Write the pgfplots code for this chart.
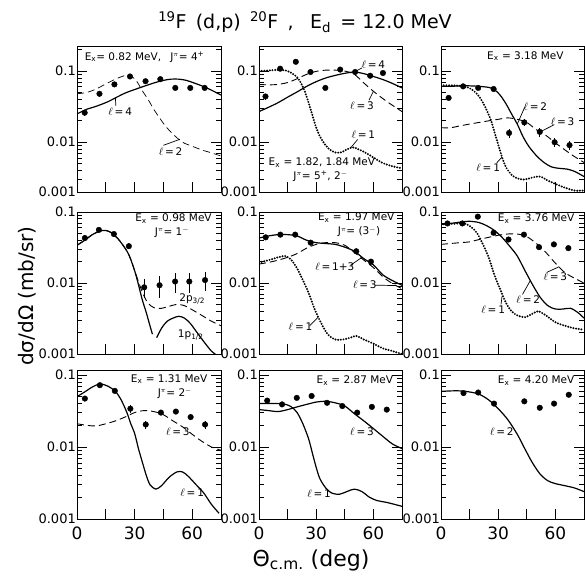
\documentclass[border=0pt]{standalone}
\usepackage{pgfplots}
\pgfplotsset{compat=1.18}
\usepackage{graphicx}
\usepackage{fontspec}
\setmainfont{DejaVu Sans}
\newcommand{\af}{\fontsize{10.5}{12}\selectfont}
\newcommand{\lab}[1]{$\ell$\,=\,#1}
\tikzset{ptr/.style={black, line width=0.7pt}}
\pgfplotsset{
  every axis/.append style={
    scale only axis, xmin=0, xmax=75,
    anchor=north west,
    axis line style={line width=0.9pt},
    xtick={0,15,30,45,60},
    xtick pos=left, ytick pos=both, yticklabel pos=left,
    tick align=inside,
    major tick length=10pt, minor tick length=5pt,
    tick style={black, line width=0.8pt},
    yticklabel style={font=\fontsize{13}{13}\selectfont, inner sep=1pt},
    xticklabel style={font=\fontsize{17}{17}\selectfont, yshift=-4pt},
  },
  RowOne/.style={height=146pt, ymin=0.002, ymax=0.225, xticklabels={},
    ytick={0.002,0.01,0.1}, yticklabels={0.001,0.01,0.1},
    minor ytick={0.003,0.004,0.005,0.006,0.007,0.008,0.009,0.02,0.03,0.04,0.05,0.06,0.07,0.08,0.09,0.2}},
  RowTwo/.style={height=142pt, ymin=0.001, ymax=0.1, xticklabels={},
    ytick={0.001,0.01,0.1}, yticklabels={0.001,0.01,0.1},
    minor ytick={0.002,0.003,0.004,0.005,0.006,0.007,0.008,0.009,0.02,0.03,0.04,0.05,0.06,0.07,0.08,0.09}},
  RowThree/.style={height=149pt, ymin=0.001, ymax=0.117,
    ytick={0.001,0.01,0.1}, yticklabels={0.001,0.01,0.1},
    xticklabels={0,,30,,60},
    minor ytick={0.002,0.003,0.004,0.005,0.006,0.007,0.008,0.009,0.02,0.03,0.04,0.05,0.06,0.07,0.08,0.09}},
  SOL/.style={black, line width=1.2pt, smooth, no markers},
  DSH/.style={black, line width=0.9pt, dash pattern=on 7pt off 4pt, smooth, no markers},
  DOT/.style={black, line width=2.2pt, dash pattern=on 0pt off 2.7pt, line cap=round, smooth, no markers},
  PTS/.style={black, only marks, mark=*, mark size=2.8pt,
    error bars/y dir=both, error bars/y explicit relative,
    error bars/error bar style={line width=0.9pt, solid}, error bars/error mark=none},
}
\begin{document}
\begin{tikzpicture}
\useasboundingbox (0,0) rectangle (585pt,-576pt);
% title and axis labels
\node[anchor=base, font=\fontsize{19}{19}\selectfont] at (305pt,-28pt)
  {\textsuperscript{19}F\, (d,p)\, \textsuperscript{20}F\, ,\;\; E\textsubscript{d}\, = 12.0 MeV};
\node[rotate=90, font=\fontsize{20}{20}\selectfont] at (27pt,-296pt) {dσ/dΩ (mb/sr)};
\node[font=\fontsize{22}{22}\selectfont] at (311pt,-560pt) {Θ\textsubscript{c.m.} (deg)};

% ---------------- Row 1 ----------------
\begin{semilogyaxis}[RowOne, width=144pt, at={(77pt,-46pt)}]
\addplot[PTS] coordinates {(4,0.026)+-(0,0.1) (11.7,0.048)+-(0,0.1) (19.5,0.065)+-(0,0.08) (27.6,0.084)+-(0,0.06)
 (35.7,0.072)+-(0,0.06) (43.4,0.077)+-(0,0.06) (51.2,0.058)+-(0,0.06) (59,0.058)+-(0,0.06) (66.5,0.058)+-(0,0.06)};
\addplot[SOL] coordinates {(0,0.025) (5,0.029) (10,0.032) (16,0.037) (20,0.042) (25,0.049) (30,0.055) (34,0.060) (40,0.068)
 (45,0.074) (49,0.077) (53,0.077) (57,0.074) (61,0.068) (65,0.062) (70,0.054) (75,0.046)};
\addplot[DSH, line width=0.7pt] coordinates {(0,0.048) (5,0.050) (10,0.056) (15,0.066) (20,0.077) (24,0.085) (27,0.088) (30,0.078)
 (32,0.066) (34,0.053) (37,0.040) (40,0.029) (43,0.022) (46,0.017) (50,0.013) (55,0.010) (60,0.0088) (65,0.0078) (70,0.0071) (75,0.0064)};
\node[anchor=north west, font=\af] at (rel axis cs:0.03,0.985) {E\textsubscript{x}= 0.82 MeV,\;\; J\textsuperscript{$\pi$}= 4\textsuperscript{+}};
\node[font=\af] at (rel axis cs:0.30,0.55) {\lab{4}};
\draw[ptr] (rel axis cs:0.27,0.59) -- (axis cs:20,0.042);
\node[font=\af] at (rel axis cs:0.65,0.28) {\lab{2}};
\draw[ptr] (rel axis cs:0.6,0.32) -- (axis cs:53.6,0.011);
\end{semilogyaxis}

\begin{semilogyaxis}[RowOne, width=143pt, at={(259pt,-46pt)}]
\addplot[PTS] coordinates {(3.4,0.044)+-(0,0.1) (11.1,0.108)+-(0,0.06) (19.3,0.135)+-(0,0.06) (27,0.097)+-(0,0.06)
 (34.8,0.058)+-(0,0.08) (42.6,0.105)+-(0,0.06) (50.4,0.097)+-(0,0.06) (58.3,0.086)+-(0,0.06) (65,0.094)+-(0,0.06)};
\addplot[DOT] coordinates {(0,0.1) (5,0.102) (10,0.104) (14,0.102) (17,0.094) (20,0.082) (22,0.068) (24,0.052) (26,0.036)
 (28,0.024) (30,0.016) (32,0.012) (34,0.0098) (37,0.0079) (40,0.0072) (43,0.0072) (46,0.0079) (49,0.0085) (52,0.0080)
 (56,0.0071) (60,0.0061) (65,0.0051) (70,0.0046) (75,0.0043)};
\addplot[DSH] coordinates {(0,0.065) (5,0.064) (10,0.065) (15,0.069) (20,0.078) (25,0.090) (30,0.099) (35,0.103) (40,0.103)
 (45,0.100) (50,0.090) (55,0.068) (60,0.052) (65,0.041) (70,0.033) (75,0.027)};
\addplot[SOL] coordinates {(0,0.027) (5,0.031) (10,0.036) (15,0.043) (20,0.051) (25,0.061) (30,0.071) (35,0.080) (40,0.087)
 (45,0.093) (50,0.097) (55,0.092) (60,0.084) (65,0.076) (70,0.067) (75,0.058)};
\node[font=\af] at (rel axis cs:0.80,0.87) {\lab{4}};
\draw[ptr] (rel axis cs:0.72,0.85) -- (axis cs:50,0.097);
\node[font=\af] at (rel axis cs:0.72,0.59) {\lab{3}};
\draw[ptr] (rel axis cs:0.77,0.63) -- (axis cs:60,0.052);
\node[font=\af] at (rel axis cs:0.73,0.39) {\lab{1}};
\draw[ptr] (rel axis cs:0.69,0.36) -- (axis cs:48,0.0083);
\node[font=\af] at (rel axis cs:0.44,0.20) {E\textsubscript{x} = 1.82, 1.84 MeV};
\node[font=\af] at (rel axis cs:0.43,0.11) {J\textsuperscript{$\pi$}= 5\textsuperscript{+}, 2\textsuperscript{$-$}};
\end{semilogyaxis}

\begin{semilogyaxis}[RowOne, width=143pt, at={(441pt,-46pt)}]
\addplot[PTS] coordinates {(4,0.042)+-(0,0.08) (11.6,0.061)+-(0,0.06) (19.5,0.058)+-(0,0.06) (27.6,0.056)+-(0,0.06)
 (35.7,0.0135)+-(0,0.15) (43.7,0.019)+-(0,0.12) (51.8,0.014)+-(0,0.15) (59.6,0.010)+-(0,0.15) (67.4,0.0091)+-(0,0.15)};
\addplot[DOT] coordinates {(0,0.063) (5,0.063) (10,0.062) (14,0.059) (17,0.053) (20,0.044) (23,0.032) (26,0.021) (28,0.014)
 (30,0.0093) (32,0.0062) (34,0.0045) (37,0.0035) (40,0.0031) (44,0.0030) (48,0.0032) (52,0.0033) (56,0.0029) (60,0.0026)
 (65,0.0023) (70,0.0021) (75,0.0021)};
\addplot[SOL] coordinates {(0,0.061) (5,0.061) (10,0.062) (15,0.062) (20,0.061) (25,0.059) (28,0.055) (31,0.046) (34,0.035)
 (37,0.025) (40,0.018) (43,0.012) (46,0.0088) (50,0.0065) (54,0.0052) (58,0.0045) (62,0.0043) (66,0.0042) (70,0.0039) (75,0.0033)};
\addplot[DSH] coordinates {(0,0.016) (5,0.016) (10,0.017) (15,0.018) (20,0.019) (25,0.020) (30,0.021) (35,0.022) (40,0.021)
 (45,0.019) (50,0.015) (55,0.0125) (60,0.0098) (65,0.0078) (70,0.0063) (75,0.0052)};
\node[font=\af] at (rel axis cs:0.59,0.93) {E\textsubscript{x} = 3.18 MeV};
\node[font=\af] at (rel axis cs:0.66,0.585) {\lab{2}};
\draw[ptr] (rel axis cs:0.585,0.58) -- (axis cs:40,0.018);
\node[font=\af] at (rel axis cs:0.85,0.48) {\lab{3}};
\draw[ptr] (rel axis cs:0.79,0.46) -- (axis cs:52,0.014);
\node[font=\af] at (rel axis cs:0.33,0.17) {\lab{1}};
\draw[ptr] (rel axis cs:0.39,0.2) -- (axis cs:32,0.0062);
\end{semilogyaxis}

% ---------------- Row 2 ----------------
\begin{semilogyaxis}[RowTwo, width=144pt, at={(77pt,-212pt)}]
\addplot[PTS] coordinates {(4.1,0.043)+-(0,0.1) (11.4,0.056)+-(0,0.08) (19.2,0.049)+-(0,0.08) (27,0.033)+-(0,0.1)
 (35,0.0087)+-(0,0.3) (43,0.0093)+-(0,0.33) (51.1,0.0105)+-(0,0.3) (58.5,0.0105)+-(0,0.3) (66.7,0.011)+-(0,0.3)};
\addplot[SOL] coordinates {(0,0.034) (4,0.040) (8,0.048) (12,0.054) (15,0.055) (18,0.051) (21,0.043) (24,0.034) (27,0.025)
 (30,0.015) (32,0.0095) (34,0.0058) (36,0.0039) (38,0.0025) (39.3,0.0019)};
\addplot[SOL] coordinates {(41.5,0.0017) (44,0.0023) (47,0.0029) (50,0.0032) (53,0.0034) (56,0.0032) (59,0.0027) (62,0.0021)
 (66,0.0015) (70,0.0011) (72,0.001)};
\addplot[DSH] coordinates {(0,0.034) (4,0.040) (8,0.048) (12,0.054) (15,0.055) (18,0.051) (21,0.043) (24,0.034) (27,0.025)
 (29,0.018) (31,0.0125) (33,0.0088) (35,0.0065) (37,0.0052) (40,0.0045) (44,0.0044) (48,0.0047) (52,0.0050) (56,0.0048)
 (60,0.0042) (65,0.0035) (70,0.0029) (75,0.0025)};
\node[font=\af] at (rel axis cs:0.67,0.955) {E\textsubscript{x} = 0.98 MeV};
\node[font=\af] at (rel axis cs:0.66,0.855) {J\textsuperscript{$\pi$}= 1\textsuperscript{$-$}};
\node[font=\af] at (rel axis cs:0.80,0.39) {2p\textsubscript{3/2}};
\node[font=\af] at (rel axis cs:0.79,0.135) {1p\textsubscript{1/2}};
\end{semilogyaxis}

\begin{semilogyaxis}[RowTwo, width=143pt, at={(259pt,-212pt)}]
\addplot[PTS] coordinates {(3.5,0.044)+-(0,0.08) (11.2,0.048)+-(0,0.08) (19,0.048)+-(0,0.08) (27.1,0.037)+-(0,0.08)
 (51,0.028)+-(0,0.08) (58.7,0.020)+-(0,0.1)};
\addplot[SOL] coordinates {(0,0.043) (5,0.046) (10,0.048) (15,0.048) (20,0.046) (25,0.040) (30,0.037) (35,0.036) (40,0.035)
 (45,0.032) (50,0.028) (55,0.022) (60,0.018) (65,0.013) (70,0.0108) (75,0.0093)};
\addplot[DSH] coordinates {(0,0.0185) (5,0.0195) (10,0.021) (15,0.023) (20,0.026) (25,0.031) (30,0.035) (35,0.037) (40,0.037)
 (45,0.034) (50,0.027) (55,0.021) (60,0.0165) (65,0.0122) (70,0.0098) (75,0.0083)};
\addplot[DOT] coordinates {(0,0.0195) (5,0.021) (10,0.023) (14,0.024) (17,0.021) (20,0.016) (23,0.011) (26,0.0073) (28,0.0052)
 (30,0.0038) (33,0.0026) (36,0.0019) (40,0.0016) (44,0.0016) (48,0.0017) (51,0.0018) (55,0.0016) (60,0.0014) (65,0.0012)
 (70,0.0011) (75,0.001)};
\node[font=\af] at (rel axis cs:0.68,0.96) {E\textsubscript{x} = 1.97 MeV};
\node[font=\af] at (rel axis cs:0.70,0.86) {J\textsuperscript{$\pi$}= (3\textsuperscript{$-$})};
\node[font=\af] at (rel axis cs:0.53,0.615) {\lab{1+3}};
\draw[ptr] (rel axis cs:0.64,0.625) -- (axis cs:54,0.023);
\node[font=\af] at (rel axis cs:0.74,0.485) {\lab{3}};
\draw[ptr] (rel axis cs:0.81,0.485) -- (axis cs:72,0.0092);
\node[font=\af] at (rel axis cs:0.29,0.19) {\lab{1}};
\draw[ptr] (rel axis cs:0.355,0.2) -- (axis cs:31,0.0033);
\end{semilogyaxis}

\begin{semilogyaxis}[RowTwo, width=143pt, at={(441pt,-212pt)}]
\addplot[PTS] coordinates {(3.4,0.069)+-(0,0.06) (11.2,0.069)+-(0,0.06) (19.3,0.086)+-(0,0.06) (27.6,0.051)+-(0,0.06)
 (35.4,0.041)+-(0,0.08) (43.5,0.048)+-(0,0.06) (51.4,0.032)+-(0,0.08) (59.2,0.035)+-(0,0.08) (66.8,0.031)+-(0,0.08)};
\addplot[SOL] coordinates {(0,0.067) (5,0.069) (10,0.072) (15,0.074) (20,0.071) (24,0.064) (28,0.055) (32,0.044) (36,0.033)
 (40,0.024) (44,0.015) (48,0.0095) (52,0.0063) (56,0.0048) (60,0.0043) (64,0.0043) (68,0.0044) (72,0.0038) (75,0.0032)};
\addplot[DOT] coordinates {(0,0.067) (5,0.068) (10,0.069) (13,0.068) (16,0.061) (19,0.050) (22,0.035) (25,0.023) (28,0.013)
 (31,0.0082) (34,0.0053) (37,0.0040) (40,0.0035) (44,0.0033) (48,0.0037) (51,0.0040) (55,0.0035) (60,0.0028) (65,0.0025)
 (70,0.0023) (75,0.0022)};
\addplot[DSH] coordinates {(0,0.035) (5,0.036) (10,0.037) (15,0.038) (20,0.041) (25,0.044) (30,0.047) (35,0.049) (40,0.049)
 (45,0.045) (50,0.036) (55,0.027) (60,0.019) (65,0.014) (70,0.0117) (75,0.010)};
\node[font=\af] at (rel axis cs:0.665,0.955) {E\textsubscript{x} = 3.76 MeV};
\node[font=\af] at (rel axis cs:0.80,0.545) {\lab{3}};
\draw[ptr] (rel axis cs:0.74,0.575) -- (axis cs:62,0.017);
\node[font=\af] at (rel axis cs:0.61,0.385) {\lab{2}};
\draw[ptr] (rel axis cs:0.57,0.42) -- (axis cs:47,0.011);
\node[font=\af] at (rel axis cs:0.365,0.31) {\lab{1}};
\draw[ptr] (rel axis cs:0.42,0.35) -- (axis cs:32,0.0065);
\end{semilogyaxis}

% ---------------- Row 3 ----------------
\begin{semilogyaxis}[RowThree, width=144pt, at={(77pt,-370pt)}]
\addplot[PTS] coordinates {(4.1,0.047)+-(0,0.08) (11.9,0.072)+-(0,0.06) (19.7,0.060)+-(0,0.06) (27.8,0.034)+-(0,0.12)
 (35.8,0.0205)+-(0,0.12) (43.7,0.030)+-(0,0.08) (51.5,0.031)+-(0,0.08) (59.2,0.026)+-(0,0.1) (66.7,0.0205)+-(0,0.12)};
\addplot[SOL] coordinates {(0,0.050) (4,0.058) (8,0.068) (12,0.075) (16,0.070) (20,0.059) (23,0.045) (26,0.030) (28,0.021)
 (30,0.0155) (32,0.0095) (34,0.0062) (36,0.0041) (38,0.0030) (41,0.0026) (44,0.0029) (48,0.0038) (52,0.0045) (55,0.0045)
 (58,0.0039) (62,0.0030) (66,0.0023) (70,0.0016) (74,0.0012)};
\addplot[DSH] coordinates {(0,0.021) (5,0.020) (10,0.0196) (15,0.021) (20,0.023) (25,0.026) (30,0.030) (35,0.032) (40,0.031)
 (45,0.028) (50,0.023) (55,0.019) (60,0.015) (65,0.012) (70,0.010) (75,0.009)};
\node[font=\af] at (rel axis cs:0.64,0.94) {E\textsubscript{x} = 1.31 MeV};
\node[font=\af] at (rel axis cs:0.68,0.845) {J\textsuperscript{$\pi$}= 2\textsuperscript{$-$}};
\node[font=\af] at (rel axis cs:0.70,0.585) {\lab{3}};
\node[font=\af] at (rel axis cs:0.80,0.175) {\lab{1}};
\end{semilogyaxis}

\begin{semilogyaxis}[RowThree, width=143pt, at={(259pt,-370pt)}]
\addplot[PTS] coordinates {(4.3,0.044)+-(0,0.08) (12.1,0.039)+-(0,0.08) (19.8,0.048)+-(0,0.06) (27.6,0.051)+-(0,0.06)
 (35.7,0.041)+-(0,0.06) (43.7,0.037)+-(0,0.08) (51.5,0.030)+-(0,0.08) (59.2,0.036)+-(0,0.06) (67,0.033)+-(0,0.08)};
\addplot[SOL] coordinates {(0,0.033) (5,0.032) (10,0.031) (15,0.033) (20,0.036) (25,0.039) (30,0.042) (35,0.043) (40,0.041)
 (45,0.037) (50,0.029) (55,0.023) (60,0.018) (65,0.014) (70,0.011) (75,0.0095)};
\addplot[SOL] coordinates {(0,0.040) (5,0.040) (10,0.040) (14,0.039) (17,0.036) (20,0.030) (23,0.021) (26,0.013) (28,0.0082)
 (30,0.0052) (32,0.0036) (35,0.0027) (38,0.0023) (42,0.0022) (46,0.0024) (50,0.0026) (54,0.0024) (58,0.0020) (62,0.0018)
 (67,0.0017) (75,0.0015)};
\node[font=\af] at (rel axis cs:0.67,0.93) {E\textsubscript{x} = 2.87 MeV};
\node[font=\af] at (rel axis cs:0.72,0.585) {\lab{3}};
\node[font=\af] at (rel axis cs:0.42,0.17) {\lab{1}};
\end{semilogyaxis}

\begin{semilogyaxis}[RowThree, width=143pt, at={(441pt,-370pt)}]
\addplot[PTS] coordinates {(11.8,0.056)+-(0,0.06) (19.5,0.057)+-(0,0.06) (27.8,0.040)+-(0,0.08) (43.7,0.043)+-(0,0.08)
 (51.8,0.035)+-(0,0.08) (59.3,0.040)+-(0,0.08) (67,0.053)+-(0,0.08)};
\addplot[SOL] coordinates {(0,0.059) (5,0.060) (10,0.060) (15,0.058) (20,0.054) (25,0.045) (30,0.034) (35,0.024) (40,0.015)
 (44,0.0094) (48,0.0060) (52,0.0042) (56,0.0034) (60,0.0031) (65,0.0029) (70,0.0027) (75,0.0024)};
\node[font=\af] at (rel axis cs:0.665,0.93) {E\textsubscript{x} = 4.20 MeV};
\node[font=\af] at (rel axis cs:0.425,0.585) {\lab{2}};
\end{semilogyaxis}
\end{tikzpicture}
\end{document}
